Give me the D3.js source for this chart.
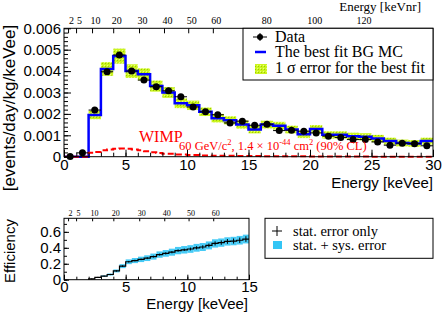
<!DOCTYPE html>
<html>
<head>
<meta charset="utf-8">
<script src="https://cdn.jsdelivr.net/npm/d3@7"></script>
<style>
    body { margin: 0; background: #fff; }
    svg { display: block; }
    .sans { font-family: "Liberation Sans", Arial, sans-serif; }
    .serif { font-family: "Liberation Serif", "Times New Roman", serif; }
</style>
</head>
<body>
<div id="chart"></div>
<script>
// ---- top panel: measured spectrum (1 keV bins, centres)
const dataE = [0.5, 1.5, 2.5, 3.5, 4.5, 5.5, 6.5, 7.5, 8.5, 9.5, 10.5, 11.5, 12.5, 13.5, 14.5,
    15.5, 16.5, 17.5, 18.5, 19.5, 20.5, 21.5, 22.5, 23.5, 24.5, 25.5, 26.5, 27.5, 28.5, 29.5];
const dataRate = [0.00001, 0.00018, 0.00218, 0.00397, 0.00475, 0.0040, 0.00358, 0.00327, 0.00308, 0.0028,
    0.00232, 0.0021, 0.00196, 0.00158, 0.00166, 0.00147, 0.00152, 0.00122, 0.00124, 0.00119,
    0.00111, 0.00096, 0.0009, 0.0008, 0.0008, 0.00069, 0.00054, 0.00063, 0.00061, 0.00051];
const dataErr = [0.00002, 0.00005, 0.0001, 0.00013, 0.00014, 0.00013, 0.00012, 0.00012, 0.00011, 0.00011,
    0.0001, 0.0001, 0.0001, 0.00009, 0.00009, 0.00009, 0.00009, 0.00008, 0.00008, 0.00008,
    0.00008, 0.00007, 0.00007, 0.00007, 0.00007, 0.00006, 0.00006, 0.00006, 0.00006, 0.00006];

// best fit BG MC, bins [i, i+1)
const bgEdges = [0, 1, 2, 3, 4, 5, 6, 7, 8, 9, 10, 11, 12, 13, 14, 15, 16, 17, 18, 19,
    20, 21, 22, 23, 24, 25, 26, 27, 28, 29, 30];
const bgRate = [0, 0, 0.00195, 0.0041, 0.0047, 0.0040, 0.00385, 0.0033, 0.0030, 0.0025,
    0.0024, 0.0021, 0.0018, 0.0017, 0.0015, 0.00127, 0.0015, 0.00145, 0.00127, 0.00105,
    0.0013, 0.00102, 0.00102, 0.00095, 0.00093, 0.00085, 0.00073, 0.00064, 0.00062, 0.00073];
const bgBand = [0, 0, 0.0002, 0.00032, 0.00035, 0.00032, 0.00028, 0.00026, 0.00025, 0.00023,
    0.00022, 0.0002, 0.0002, 0.00019, 0.00019, 0.00018, 0.00018, 0.00018, 0.00018, 0.00018,
    0.00018, 0.00017, 0.00017, 0.00017, 0.00017, 0.00017, 0.00016, 0.00016, 0.00016, 0.00016];

// WIMP 60 GeV spectrum (step edges)
const wimpE = [0, 2, 2.5, 3, 3.5, 4, 4.5, 5, 5.5, 6, 6.5, 7, 7.5, 8, 9, 10, 11, 12, 14, 16, 20, 25, 30];
const wimpRate = [0, 0.00018, 0.00022, 0.0003, 0.00034, 0.00037, 0.00038, 0.00037, 0.00034, 0.0003,
    0.00025, 0.00021, 0.00017, 0.00014, 0.0001, 0.00008, 0.00006, 0.00004, 0.00003, 0.00002, 0.00001, 0, 0];

// keVnr scale on top: keVnr value and where it sits in keVee
const nrTicks = [2, 5, 10, 20, 30, 40, 50, 60, 80, 100, 120];
const nrAtEe = [0.33, 0.98, 2.28, 4.0, 6.1, 8.13, 10.1, 12.1, 16.2, 20.1, 24.1];

// ---- bottom panel: efficiency, 0.5 keV bins starting at 2 keVee
const effLo = [2, 2.5, 3, 3.5, 4, 4.5, 5, 5.5, 6, 6.5, 7, 7.5, 8, 8.5, 9, 9.5,
    10, 10.5, 11, 11.5, 12, 12.5, 13, 13.5, 14, 14.5];
const effVal = [0.01, 0.03, 0.045, 0.065, 0.11, 0.17, 0.225, 0.24, 0.255, 0.27, 0.29, 0.315, 0.33,
    0.345, 0.365, 0.375, 0.385, 0.40, 0.41, 0.43, 0.455, 0.465, 0.48, 0.485, 0.495, 0.51];
const effStat = [0.005, 0.006, 0.007, 0.008, 0.009, 0.01, 0.01, 0.01, 0.01, 0.012, 0.012, 0.012, 0.014,
    0.014, 0.015, 0.015, 0.018, 0.02, 0.022, 0.024, 0.026, 0.028, 0.03, 0.032, 0.034, 0.035];
const effSys = [0, 0, 0.008, 0.012, 0.018, 0.025, 0.03, 0.032, 0.034, 0.036, 0.038, 0.04, 0.042,
    0.044, 0.046, 0.047, 0.048, 0.049, 0.05, 0.05, 0.052, 0.052, 0.052, 0.053, 0.054, 0.055];

const W = 442, H = 316;

let svg = d3.select("#chart").append("svg")
    .attr("width", W)
    .attr("height", H);

svg.append("rect").attr("width", W).attr("height", H).attr("fill", "#fff");

// pattern for the 1 sigma band
let defs = svg.append("defs");
let pat = defs.append("pattern")
    .attr("id", "band")
    .attr("width", 3).attr("height", 3)
    .attr("patternUnits", "userSpaceOnUse");
pat.append("rect").attr("width", 3).attr("height", 3).attr("fill", "#ccf51f");
pat.append("rect").attr("width", 1).attr("height", 1).attr("fill", "#99cc00");
pat.append("rect").attr("x", 2).attr("y", 2).attr("width", 1).attr("height", 1).attr("fill", "#e6ff80");

// ===================== TOP PANEL =====================
let pTop = {x0: 64, x1: 433, y0: 28.3, y1: 156.7};

let x = d3.scaleLinear().domain([0, 30]).range([pTop.x0, pTop.x1]);
let y = d3.scaleLinear().domain([0, 0.006]).range([pTop.y1, pTop.y0]);

let gTop = svg.append("g");

// band (bins without band get no height)
gTop.selectAll(".band")
    .data(bgRate)
    .enter()
    .append("rect")
    .attr("class", "band")
    .attr("x", (d, i) => x(bgEdges[i]))
    .attr("width", (d, i) => x(bgEdges[i + 1]) - x(bgEdges[i]))
    .attr("y", (d, i) => y(d + bgBand[i]))
    .attr("height", (d, i) => y(d - bgBand[i]) - y(d + bgBand[i]))
    .attr("fill", "url(#band)");

// BG MC histogram
let bgPts = bgRate.map((d, i) => [bgEdges[i], d]);
bgPts.push([30, bgRate[bgRate.length - 1]]);
let stepLine = d3.line()
    .x(d => x(d[0]))
    .y(d => y(d[1]))
    .curve(d3.curveStepAfter);

gTop.append("path")
    .attr("d", stepLine(bgPts))
    .attr("fill", "none")
    .attr("stroke", "#0000ff")
    .attr("stroke-width", 2.5);

// WIMP spectrum
gTop.append("path")
    .attr("d", stepLine(wimpE.map((e, i) => [e, wimpRate[i]])))
    .attr("fill", "none")
    .attr("stroke", "#ff0000")
    .attr("stroke-width", 2)
    .attr("stroke-dasharray", "6,3");

// data points
let pts = gTop.selectAll(".pt")
    .data(dataE)
    .enter()
    .append("g")
    .attr("class", "pt");

pts.append("line")
    .attr("x1", d => x(d - 0.5)).attr("x2", d => x(d + 0.5))
    .attr("y1", (d, i) => y(dataRate[i])).attr("y2", (d, i) => y(dataRate[i]))
    .attr("stroke", "black");
pts.append("line")
    .attr("x1", d => x(d)).attr("x2", d => x(d))
    .attr("y1", (d, i) => y(dataRate[i] - dataErr[i]))
    .attr("y2", (d, i) => y(dataRate[i] + dataErr[i]))
    .attr("stroke", "black");
pts.append("circle")
    .attr("cx", d => x(d))
    .attr("cy", (d, i) => y(dataRate[i]))
    .attr("r", 3.5)
    .attr("fill", "black");

// axes
let yFmt = d => d === 0 ? "0" : d3.format(".3f")(d);

let yAxis = gTop.append("g")
    .attr("class", "sans")
    .attr("transform", `translate(${pTop.x0},0)`)
    .call(d3.axisLeft(y).tickValues(d3.range(0, 0.0061, 0.001)).tickFormat(yFmt).tickSize(-7).tickPadding(3));
gTop.append("g")
    .attr("transform", `translate(${pTop.x0},0)`)
    .call(d3.axisLeft(y).tickValues(d3.range(0, 0.006, 0.0002)).tickFormat("").tickSize(-4));

let xAxis = gTop.append("g")
    .attr("class", "sans")
    .attr("transform", `translate(0,${pTop.y1})`)
    .call(d3.axisBottom(x).tickValues([0, 5, 10, 15, 20, 25, 30]).tickFormat(d3.format("d")).tickSize(-7).tickPadding(3));
gTop.append("g")
    .attr("transform", `translate(0,${pTop.y1})`)
    .call(d3.axisBottom(x).tickValues(d3.range(0, 31, 1)).tickFormat("").tickSize(-4));

// keVnr axis on top
let nrAxis = gTop.append("g")
    .attr("class", "serif")
    .attr("transform", `translate(0,${pTop.y0})`)
    .call(d3.axisTop(x).tickValues(nrAtEe).tickFormat((d, i) => nrTicks[i]).tickSize(-5).tickPadding(4));

[yAxis, xAxis, nrAxis].forEach(a => {
    a.selectAll(".tick text").attr("fill", "black");
});
yAxis.selectAll(".tick text").style("font-size", "15px");
xAxis.selectAll(".tick text").style("font-size", "15px");
nrAxis.selectAll(".tick text").style("font-size", "10px").attr("dx", 3);
gTop.selectAll(".domain").remove();
gTop.selectAll(".tick line").attr("stroke", "black");

// frame
gTop.append("rect")
    .attr("x", pTop.x0).attr("y", pTop.y0)
    .attr("width", pTop.x1 - pTop.x0).attr("height", pTop.y1 - pTop.y0)
    .attr("fill", "none").attr("stroke", "black");

// titles
svg.append("text")
    .attr("class", "sans")
    .attr("transform", "translate(15,108) rotate(-90)")
    .attr("text-anchor", "middle")
    .style("font-size", "17px")
    .text("[events/day/kg/keVee]");

svg.append("text")
    .attr("class", "sans")
    .attr("x", pTop.x1).attr("y", 188)
    .attr("text-anchor", "end")
    .style("font-size", "15px")
    .text("Energy [keVee]");

svg.append("text")
    .attr("class", "serif")
    .attr("x", pTop.x1 - 12).attr("y", 11)
    .attr("text-anchor", "end")
    .style("font-size", "13px")
    .text("Energy  [keVnr]");

// WIMP labels
svg.append("text")
    .attr("class", "serif")
    .attr("x", 139).attr("y", 142)
    .attr("fill", "#ff0000")
    .style("font-size", "16px")
    .text("WIMP");

let wl = svg.append("text")
    .attr("class", "serif")
    .attr("x", 179).attr("y", 150)
    .attr("fill", "#ff0000")
    .style("font-size", "12.5px");
wl.append("tspan").text("60 GeV/c");
wl.append("tspan").attr("dy", -5).style("font-size", "8.5px").text("2");
wl.append("tspan").attr("dy", 5).text(", 1.4 \u00d7 10");
wl.append("tspan").attr("dy", -5).style("font-size", "8.5px").text("-44");
wl.append("tspan").attr("dy", 5).text(" cm");
wl.append("tspan").attr("dy", -5).style("font-size", "8.5px").text("2");
wl.append("tspan").attr("dy", 5).text(" (90% CL)");

// legend
let leg = svg.append("g").attr("class", "serif");
leg.append("rect")
    .attr("x", 243).attr("y", pTop.y0)
    .attr("width", pTop.x1 - 243).attr("height", 80 - pTop.y0)
    .attr("fill", "white").attr("stroke", "black");
leg.append("line").attr("x1", 253).attr("x2", 267).attr("y1", 37).attr("y2", 37).attr("stroke", "black");
leg.append("line").attr("x1", 260).attr("x2", 260).attr("y1", 33).attr("y2", 41).attr("stroke", "black");
leg.append("circle").attr("cx", 260).attr("cy", 37).attr("r", 3).attr("fill", "black");
leg.append("line").attr("x1", 255).attr("x2", 266).attr("y1", 52).attr("y2", 52)
    .attr("stroke", "#0000ff").attr("stroke-width", 2.5);
leg.append("rect").attr("x", 255).attr("y", 64).attr("width", 12).attr("height", 10).attr("fill", "url(#band)");

let legLabels = ["Data", "The best fit BG MC", "1 \u03c3 error for the best fit"];
leg.selectAll(".lt")
    .data(legLabels)
    .enter()
    .append("text")
    .attr("class", "lt")
    .attr("x", 275)
    .attr("y", (d, i) => [41.5, 57, 73][i])
    .style("font-size", "16px")
    .text(d => d);

// ===================== BOTTOM PANEL =====================
let pBot = {x0: 64, x1: 249, y0: 218.3, y1: 279.7};

let xb = d3.scaleLinear().domain([0, 15]).range([pBot.x0, pBot.x1]);
let yb = d3.scaleLinear().domain([0, 0.77]).range([pBot.y1, pBot.y0]);

let gBot = svg.append("g");

// sys boxes
gBot.selectAll(".sys")
    .data(effVal)
    .enter()
    .append("rect")
    .attr("class", "sys")
    .attr("x", (d, i) => xb(effLo[i]))
    .attr("width", xb(0.5) - xb(0))
    .attr("y", (d, i) => yb(d + effSys[i]))
    .attr("height", (d, i) => yb(d - effSys[i]) - yb(d + effSys[i]))
    .attr("fill", "#33c5f5")
    .attr("opacity", 0.9);

// efficiency stairs
let effPts = effVal.map((d, i) => [effLo[i], d]);
effPts.unshift([2, 0]);
effPts.push([15, effVal[effVal.length - 1]]);
let effLine = d3.line()
    .x(d => xb(d[0]))
    .y(d => yb(d[1]))
    .curve(d3.curveStepAfter);
gBot.append("path")
    .attr("d", effLine(effPts))
    .attr("fill", "none")
    .attr("stroke", "black")
    .attr("stroke-width", 1.2);

gBot.selectAll(".stat")
    .data(effVal)
    .enter()
    .append("line")
    .attr("class", "stat")
    .attr("x1", (d, i) => xb(effLo[i] + 0.25)).attr("x2", (d, i) => xb(effLo[i] + 0.25))
    .attr("y1", (d, i) => yb(d - effStat[i])).attr("y2", (d, i) => yb(d + effStat[i]))
    .attr("stroke", "black");

let bFmt = d => d === 0 ? "0" : d3.format(".1f")(d);
let byAxis = gBot.append("g")
    .attr("class", "sans")
    .attr("transform", `translate(${pBot.x0},0)`)
    .call(d3.axisLeft(yb).tickValues([0, 0.2, 0.4, 0.6]).tickFormat(bFmt).tickSize(-5).tickPadding(3));
gBot.append("g")
    .attr("transform", `translate(${pBot.x0},0)`)
    .call(d3.axisLeft(yb).tickValues(d3.range(0, 0.76, 0.1)).tickFormat("").tickSize(-3));

let bxAxis = gBot.append("g")
    .attr("class", "sans")
    .attr("transform", `translate(0,${pBot.y1})`)
    .call(d3.axisBottom(xb).tickValues([0, 5, 10, 15]).tickFormat(d3.format("d")).tickSize(-5).tickPadding(2));
gBot.append("g")
    .attr("transform", `translate(0,${pBot.y1})`)
    .call(d3.axisBottom(xb).tickValues(d3.range(0, 16, 1)).tickFormat("").tickSize(-3));

let bnrAxis = gBot.append("g")
    .attr("class", "serif")
    .attr("transform", `translate(0,${pBot.y0})`)
    .call(d3.axisTop(xb).tickValues(nrAtEe.slice(0, 8)).tickFormat((d, i) => nrTicks[i]).tickSize(-3).tickPadding(2));

[byAxis, bxAxis, bnrAxis].forEach(a => a.selectAll(".tick text").attr("fill", "black"));
byAxis.selectAll(".tick text").style("font-size", "15px");
bxAxis.selectAll(".tick text").style("font-size", "15px");
bnrAxis.selectAll(".tick text").style("font-size", "8px").attr("dx", 2);
gBot.selectAll(".domain").remove();
gBot.selectAll(".tick line").attr("stroke", "black");

gBot.append("rect")
    .attr("x", pBot.x0).attr("y", pBot.y0)
    .attr("width", pBot.x1 - pBot.x0).attr("height", pBot.y1 - pBot.y0)
    .attr("fill", "none").attr("stroke", "black");

svg.append("text")
    .attr("class", "sans")
    .attr("transform", "translate(15,251) rotate(-90)")
    .attr("text-anchor", "middle")
    .style("font-size", "15px")
    .text("Efficiency");

svg.append("text")
    .attr("class", "sans")
    .attr("x", 248).attr("y", 309)
    .attr("text-anchor", "end")
    .style("font-size", "15px")
    .text("Energy [keVee]");

// bottom legend
let leg2 = svg.append("g").attr("class", "serif");
leg2.append("rect")
    .attr("x", 265).attr("y", pBot.y0)
    .attr("width", 168).attr("height", 40)
    .attr("fill", "white").attr("stroke", "black");
leg2.append("line").attr("x1", 272).attr("x2", 282).attr("y1", 231).attr("y2", 231).attr("stroke", "black");
leg2.append("line").attr("x1", 277).attr("x2", 277).attr("y1", 226).attr("y2", 236).attr("stroke", "black");
leg2.append("rect").attr("x", 273).attr("y", 241).attr("width", 9).attr("height", 8).attr("fill", "#33c5f5");
leg2.selectAll(".lt2")
    .data(["stat. error only", "stat. + sys. error"])
    .enter()
    .append("text")
    .attr("x", 293)
    .attr("y", (d, i) => [235.5, 250][i])
    .style("font-size", "14.5px")
    .text(d => d);
</script>
</body>
</html>
